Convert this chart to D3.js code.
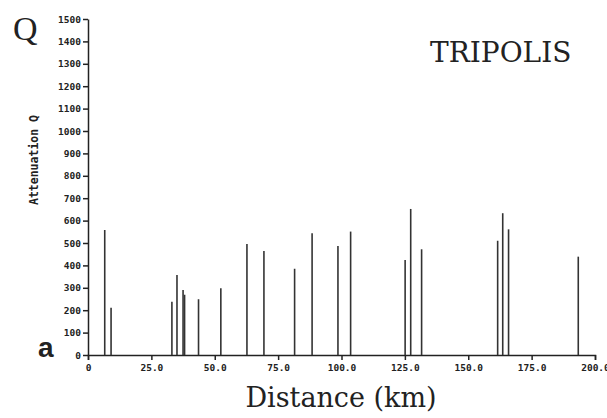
<!DOCTYPE html>
<html>
<head>
<meta charset="utf-8">
<script src="https://cdn.jsdelivr.net/npm/d3@7"></script>
<style>
  body { margin: 0; background: #fff; }
  .tick text { font-family: "DejaVu Sans Mono", monospace; font-weight: bold; font-size: 9.5px; fill: #222; }
  .axis path, .axis line { stroke: #222; stroke-width: 1.5; }
</style>
</head>
<body>
<svg width="607" height="418"></svg>
<script>
// distance along profile (km) and Q value of each spike
var distances = [6.6, 9.1, 33.1, 35.1, 37.5, 38.1, 43.6, 52.4, 62.7, 69.4, 81.5, 88.4, 98.6, 103.6, 125.1, 127.3, 131.6, 161.6, 163.6, 165.9, 193.4];
var qValues = [558, 211, 238, 357, 290, 269, 249, 298, 495, 464, 385, 543, 487, 551, 424, 652, 472, 510, 633, 561, 439];
var xTicks = [0, 25, 50, 75, 100, 125, 150, 175, 200];
var yTicks = d3.range(0, 1501, 100);

var margin = { top: 19, left: 88 };
var width = 507;
var height = 336;

var svg = d3.select('svg');
var g = svg.append('g').attr('transform', 'translate(' + margin.left + ',' + margin.top + ')');

var xScale = d3.scaleLinear().domain([0, 200]).range([0, width]);
var yScale = d3.scaleLinear().domain([0, 1500]).range([height, 0]);

var xAxis = d3.axisBottom(xScale).tickValues(xTicks).tickSize(5).tickSizeOuter(5)
  .tickFormat(function(d) { return d === 0 ? '0' : d3.format('.1f')(d); });
var yAxis = d3.axisLeft(yScale).tickValues(yTicks).tickSize(5).tickSizeOuter(0).tickPadding(2)
  .tickFormat(d3.format('d'));

g.append('g').attr('class', 'x axis')
  .attr('transform', 'translate(0,' + height + ')')
  .call(xAxis)
  .selectAll('text').attr('dy', '0.85em');

g.append('g').attr('class', 'y axis').call(yAxis);

var data = distances.map(function(d, i) { return { dist: d, q: qValues[i] }; });

g.selectAll('.spike')
  .data(data)
  .enter()
  .append('line')
  .attr('class', 'spike')
  .attr('x1', function(d) { return xScale(d.dist); })
  .attr('x2', function(d) { return xScale(d.dist); })
  .attr('y1', yScale(0))
  .attr('y2', function(d) { return yScale(d.q); })
  .attr('stroke', '#333')
  .attr('stroke-width', 1.6);

// labels
svg.append('text')
  .attr('transform', 'translate(38,160) rotate(-90)')
  .attr('text-anchor', 'middle')
  .style('font-family', '"DejaVu Sans Mono", monospace')
  .style('font-weight', 'bold')
  .style('font-size', '11.5px')
  .attr('fill', '#222')
  .text('Attenuation Q');

svg.append('text')
  .attr('x', 13).attr('y', 40)
  .style('font-family', '"Liberation Serif", serif')
  .style('font-size', '34px')
  .attr('fill', '#222')
  .text('Q');

svg.append('text')
  .attr('x', 430).attr('y', 62)
  .style('font-family', '"DejaVu Serif", serif')
  .style('font-size', '28px')
  .attr('fill', '#222')
  .text('TRIPOLIS');

svg.append('text')
  .attr('x', 38).attr('y', 357)
  .style('font-family', '"Liberation Sans", sans-serif')
  .style('font-weight', 'bold')
  .style('font-size', '28px')
  .attr('fill', '#222')
  .text('a');

svg.append('text')
  .attr('x', 341).attr('y', 407)
  .attr('text-anchor', 'middle')
  .style('font-family', '"DejaVu Serif", serif')
  .style('font-size', '27px')
  .attr('fill', '#222')
  .text('Distance (km)');
</script>
</body>
</html>
